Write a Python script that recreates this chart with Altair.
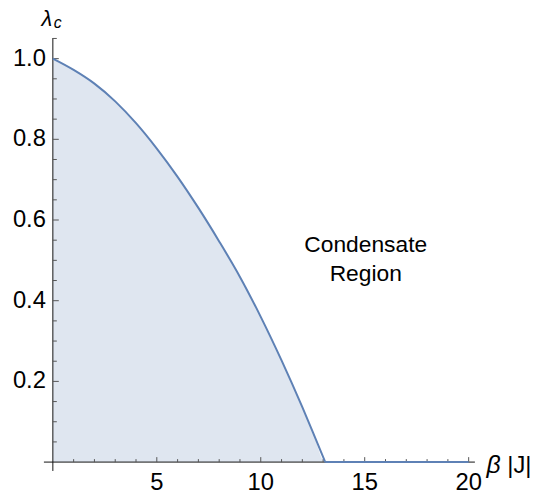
import altair as alt
import pandas as pd

# Curve data; segment 0 = falling branch, 1 = flat branch
beta = [0, 1, 2, 3, 4, 5, 6, 7, 8, 9, 10, 11, 12, 12.5, 13.1, 13.1, 20]
lam = [1.0, 0.972, 0.938, 0.894, 0.840, 0.777, 0.707, 0.630, 0.547, 0.459, 0.360, 0.252, 0.136, 0.075, 0.0, 0.0, 0.0]
seg = [0] * 15 + [1, 1]

x_major = [5, 10, 15, 20]
x_major_labels = ["5", "10", "15", "20"]
x_minor = [1, 2, 3, 4, 6, 7, 8, 9, 11, 12, 13, 14, 16, 17, 18, 19]
y_major = [0.2, 0.4, 0.6, 0.8, 1.0]
y_major_labels = ["0.2", "0.4", "0.6", "0.8", "1.0"]
y_minor = [0.05, 0.1, 0.15, 0.25, 0.3, 0.35, 0.45, 0.5, 0.55, 0.65, 0.7, 0.75, 0.85, 0.9, 0.95, 1.05]

x_axis_ext = [-0.43, 20.3]
y_axis_ext = [-0.022, 1.051]

annot_text = ["Condensate", "Region"]
annot_x = [15.05, 15.05]
annot_y = [0.521, 0.448]

X_DOM = [0, 20]
Y_DOM = [0, 1.0552]
FONT = "Liberation Sans"
LINE = "#5E81B5"
INK = "#000000"

xs = alt.Scale(domain=X_DOM, nice=False, zero=False)
ys = alt.Scale(domain=Y_DOM, nice=False, zero=False)

curve = pd.DataFrame({"x": beta, "y": lam, "seg": seg})

area = alt.Chart(curve).mark_area(color=LINE, opacity=0.2, interpolate="monotone").encode(
    x=alt.X("x:Q", scale=xs, axis=None), y=alt.Y("y:Q", scale=ys, axis=None), detail="seg:N"
)
line = alt.Chart(curve).mark_line(color=LINE, strokeWidth=2, interpolate="monotone").encode(
    x=alt.X("x:Q", scale=xs, axis=None), y=alt.Y("y:Q", scale=ys, axis=None), detail="seg:N"
)

xaxis = alt.Chart(pd.DataFrame({"x": [x_axis_ext[0]], "x2": [x_axis_ext[1]], "y": [0.0]})).mark_rule(
    color="#111111", strokeWidth=1
).encode(x=alt.X("x:Q", scale=xs, axis=None), x2="x2:Q", y=alt.Y("y:Q", scale=ys, axis=None))
yaxis = alt.Chart(pd.DataFrame({"y": [y_axis_ext[0]], "y2": [y_axis_ext[1]], "x": [0.0]})).mark_rule(
    color="#111111", strokeWidth=1
).encode(y=alt.Y("y:Q", scale=ys, axis=None), y2="y2:Q", x=alt.X("x:Q", scale=xs, axis=None))

def xticks(vals, length):
    df = pd.DataFrame({"x": vals, "y": [0.0] * len(vals)})
    return alt.Chart(df).mark_rule(color="#555555", strokeWidth=1, y2Offset=-length).encode(
        x=alt.X("x:Q", scale=xs, axis=None), y=alt.Y("y:Q", scale=ys, axis=None), y2="y:Q"
    )

def yticks(vals, length):
    df = pd.DataFrame({"y": vals, "x": [0.0] * len(vals)})
    return alt.Chart(df).mark_rule(color="#555555", strokeWidth=1, x2Offset=length).encode(
        y=alt.Y("y:Q", scale=ys, axis=None), x=alt.X("x:Q", scale=xs, axis=None), x2="x:Q"
    )

xlab = alt.Chart(pd.DataFrame({"x": x_major, "y": [0.0] * 4, "t": x_major_labels})).mark_text(
    font=FONT, fontSize=24, align="center", baseline="alphabetic", dy=28, color=INK
).encode(x=alt.X("x:Q", scale=xs, axis=None), y=alt.Y("y:Q", scale=ys, axis=None), text="t:N")

ylab = alt.Chart(pd.DataFrame({"y": y_major, "x": [0.0] * 5, "t": y_major_labels})).mark_text(
    font=FONT, fontSize=24, align="right", baseline="middle", dx=-7, color=INK
).encode(x=alt.X("x:Q", scale=xs, axis=None), y=alt.Y("y:Q", scale=ys, axis=None), text="t:N")

def label(x, y, t, **kw):
    return alt.Chart(pd.DataFrame({"x": [x], "y": [y], "t": [t]})).mark_text(
        font=FONT, color=INK, **kw
    ).encode(x=alt.X("x:Q", scale=xs, axis=None), y=alt.Y("y:Q", scale=ys, axis=None), text="t:N")

lam_t = label(0.0, Y_DOM[1], "λ", fontSize=22, fontStyle="italic", align="center", baseline="alphabetic", dx=-6, dy=-10)
c_t = label(0.0, Y_DOM[1], "c", fontSize=16, fontStyle="italic", align="left", baseline="alphabetic", dx=1, dy=-8)
beta_t = label(20.0, 0.0, "β", fontSize=25, fontStyle="italic", align="left", baseline="alphabetic", dx=18, dy=11)
j_t = label(20.0, 0.0, "|J|", fontSize=24, align="left", baseline="alphabetic", dx=39, dy=11)

annot = alt.Chart(pd.DataFrame({"x": annot_x, "y": annot_y, "t": annot_text})).mark_text(
    font=FONT, fontSize=23, align="center", baseline="alphabetic", color=INK
).encode(x=alt.X("x:Q", scale=xs, axis=None), y=alt.Y("y:Q", scale=ys, axis=None), text="t:N")

chart = alt.layer(
    area, xaxis, yaxis,
    xticks(x_minor, 3), xticks(x_major, 5),
    yticks(y_minor, 4), yticks(y_major, 6),
    line, xlab, ylab, lam_t, c_t, beta_t, j_t, annot,
).properties(
    width=420, height=430,
    padding={"left": 45.3, "top": 26.2, "right": 67, "bottom": 30.8},
    autosize=alt.AutoSizeParams(type="none"),
).configure_view(stroke=None)

chart.save("out.html", embed_options={"renderer": "svg", "actions": False})
